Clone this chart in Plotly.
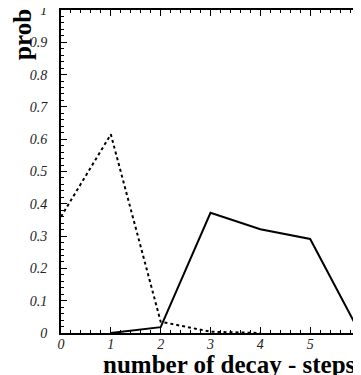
import plotly.graph_objects as go

steps = [0, 1, 2, 3, 4, 5, 6]
prob_dotted = [0.36, 0.615, 0.035, 0.004, 0.0]
steps_dotted = [0, 1, 2, 3, 4]
prob_solid = [0.0, 0.018, 0.372, 0.321, 0.291, 0.0]
steps_solid = [1, 2, 3, 4, 5, 6]
ytick_vals = [0, 0.1, 0.2, 0.3, 0.4, 0.5, 0.6, 0.7, 0.8, 0.9, 1]
ytick_text = ["0", "0.1", "0.2", "0.3", "0.4", "0.5", "0.6", "0.7", "0.8", "0.9", "1"]

fig = go.Figure()
fig.add_trace(go.Scatter(x=steps_dotted, y=prob_dotted, mode="lines",
                         line=dict(color="black", width=2, dash="dot"),
                         showlegend=False))
fig.add_trace(go.Scatter(x=steps_solid, y=prob_solid, mode="lines",
                         line=dict(color="black", width=2),
                         showlegend=False))

tickfont = dict(family="Liberation Serif", size=14, color="#222", style="italic")
fig.update_xaxes(range=[0, 6], tickvals=steps, ticktext=[str(s) for s in steps],
                 showline=True, linecolor="black", linewidth=2, mirror="ticks",
                 ticks="inside", ticklen=6, tickcolor="black", tickwidth=1,
                 minor=dict(dtick=0.2, ticks="inside", ticklen=3, tickcolor="black"),
                 showgrid=False, zeroline=False, tickfont=tickfont, automargin=False,
                 ticklabelstandoff=-3, ticklabeloverflow="allow")
fig.update_yaxes(range=[0, 1], tickvals=ytick_vals, ticktext=ytick_text,
                 showline=True, linecolor="black", linewidth=2, mirror="ticks",
                 ticks="inside", ticklen=6, tickcolor="black", tickwidth=1,
                 minor=dict(dtick=0.02, ticks="inside", ticklen=3, tickcolor="black"),
                 showgrid=False, zeroline=False, tickfont=tickfont, automargin=False,
                 ticklabelstandoff=9, ticklabeloverflow="allow")

titlefont = dict(family="Liberation Serif", size=25, color="black", weight="bold")
fig.add_annotation(text="prob", xref="paper", yref="paper", x=-0.127, y=0.923,
                   xanchor="center", yanchor="middle", textangle=-90,
                   showarrow=False, font=titlefont)
fig.add_annotation(text="number of decay - steps", xref="paper", yref="paper",
                   x=0.565, y=-0.099, xanchor="center", yanchor="middle",
                   showarrow=False, font=titlefont)

fig.update_layout(width=353, height=367, margin=dict(l=53, r=1, t=2, b=42),
                  plot_bgcolor="white", paper_bgcolor="white")
fig.write_html("out.html", config={"responsive": False})
